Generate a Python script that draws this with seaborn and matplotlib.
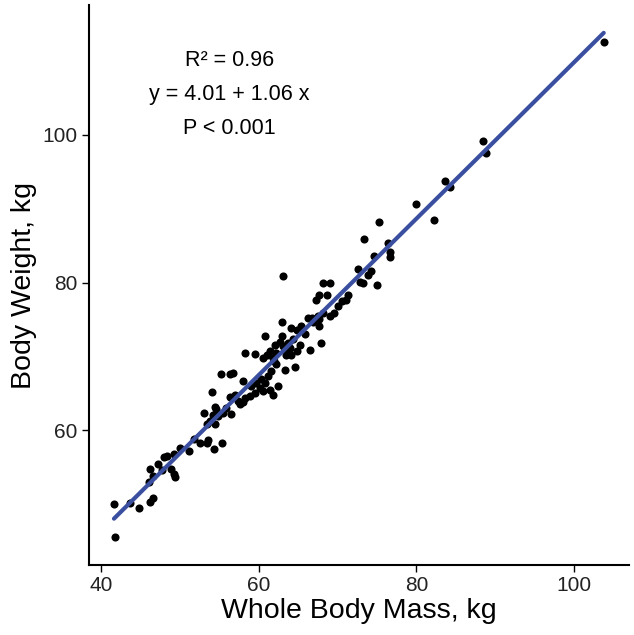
import matplotlib
matplotlib.use("Agg")
import matplotlib.pyplot as plt
import seaborn as sns
import pandas as pd

# Whole body mass (kg) and body weight (kg)
whole_body_mass = [
    41.6, 41.7, 43.6, 44.8, 46.2, 46.6, 46.0, 46.2, 46.6, 47.7,
    48.0, 48.3, 49.2, 48.9, 49.2, 49.4, 50.0, 51.1, 52.5, 53.4,
    55.2, 56.3, 54.1, 56.3, 57.0, 57.6, 58.0, 53.0, 54.4, 54.6,
    54.2, 54.8, 55.5, 56.5, 53.8, 54.4, 53.4, 53.6, 54.3, 55.3,
    62.9, 64.1, 64.8, 65.4, 66.2, 67.5, 68.1, 67.7, 60.8, 62.9,
    62.7, 62.0, 63.1, 63.7, 64.3, 65.2, 63.9, 64.8, 64.1, 63.5,
    62.2, 61.4, 61.0, 61.8, 60.5, 58.2, 59.5, 66.5, 67.9, 64.6,
    63.3, 61.6, 62.2, 61.2, 60.3, 60.8, 59.7, 60.1, 60.5, 59.5,
    58.9, 58.2, 58.0, 56.7, 62.4, 61.4, 61.8,
    63.1, 68.1, 69.0, 67.7, 68.6, 67.3, 72.6, 73.2, 73.8, 71.3,
    71.1, 70.0, 69.6, 69.0, 67.7, 66.7,
    79.9, 82.3, 75.2, 73.4, 76.4, 76.6, 76.6, 74.6, 74.3, 72.8,
    75.0, 103.8, 88.5, 88.9, 83.6, 84.3,
    47.2, 51.8, 55.8, 57.3, 59.0, 61.9, 63.5, 65.8, 66.9, 70.5,
]
body_weight = [
    50.0, 45.5, 50.1, 49.4, 50.3, 50.8, 53.0, 54.7, 53.8, 54.6,
    56.3, 56.5, 56.8, 54.7, 54.0, 53.6, 57.6, 57.2, 58.2, 58.3,
    67.6, 67.6, 65.2, 64.5, 64.8, 63.5, 63.8, 62.3, 63.2, 62.8,
    62.1, 61.9, 62.3, 62.2, 61.2, 60.8, 60.8, 58.7, 57.4, 58.3,
    74.7, 73.8, 73.6, 74.1, 75.2, 75.4, 75.9, 74.1, 72.8, 72.8,
    72.0, 71.6, 71.4, 71.8, 72.3, 71.6, 71.1, 70.7, 70.2, 70.2,
    70.4, 70.7, 70.2, 69.8, 69.8, 70.4, 70.3, 70.9, 71.8, 68.6,
    68.1, 68.0, 68.9, 67.3, 66.9, 66.4, 66.4, 65.7, 65.3, 65.0,
    64.6, 64.4, 66.6, 67.8, 66.0, 65.5, 64.8,
    80.9, 79.9, 80.0, 78.3, 78.3, 77.7, 81.9, 80.0, 81.0, 78.3,
    77.7, 76.8, 75.9, 75.4, 75.0, 75.2,
    90.7, 88.5, 88.2, 85.9, 85.3, 84.2, 83.5, 83.6, 81.6, 80.1,
    79.6, 112.6, 99.2, 97.6, 93.7, 93.0,
    55.4, 58.8, 63.0, 64.0, 66.0, 69.3, 71.0, 73.0, 74.6, 77.5,
]
annotation_lines = ["R² = 0.96", "y = 4.01 + 1.06 x", "P < 0.001"]
x_ticks = [40, 60, 80, 100]
y_ticks = [60, 80, 100]

df = pd.DataFrame({"mass": whole_body_mass, "weight": body_weight})

sns.set_theme(style="white")
plt.rcParams["font.family"] = ["Liberation Sans", "DejaVu Sans"]

fig = plt.figure(figsize=(6.34, 6.35), dpi=100)
ax = fig.add_axes([0.140, 0.110, 0.852, 0.882])

sns.regplot(data=df, x="mass", y="weight", ci=None, ax=ax,
            scatter_kws=dict(s=34, color="black", alpha=1, linewidths=0, zorder=2),
            line_kws=dict(color="#3B4FA0", linewidth=3.0, zorder=3))

ax.set_xlim(38.4, 107.0)
ax.set_ylim(41.7, 117.6)
ax.set_xticks(x_ticks)
ax.set_yticks(y_ticks)
ax.tick_params(axis="both", which="both", direction="out", length=5, width=1.0,
               color="black", labelsize=15, labelcolor="#222222", bottom=True, left=True, pad=3)
for side in ["top", "right"]:
    ax.spines[side].set_visible(False)
for side in ["left", "bottom"]:
    ax.spines[side].set_color("black")
    ax.spines[side].set_linewidth(1.5)

ax.set_xlabel("Whole Body Mass, kg", fontsize=20.5, color="black", labelpad=2)
ax.set_ylabel("Body Weight, kg", fontsize=20.5, color="black", labelpad=4)

for i, line in enumerate(annotation_lines):
    ax.text(56.3, 110.1 - i * 4.6, line, ha="center", va="center", fontsize=15.5, color="black")

fig.savefig("out.png", dpi=100, facecolor="white")
